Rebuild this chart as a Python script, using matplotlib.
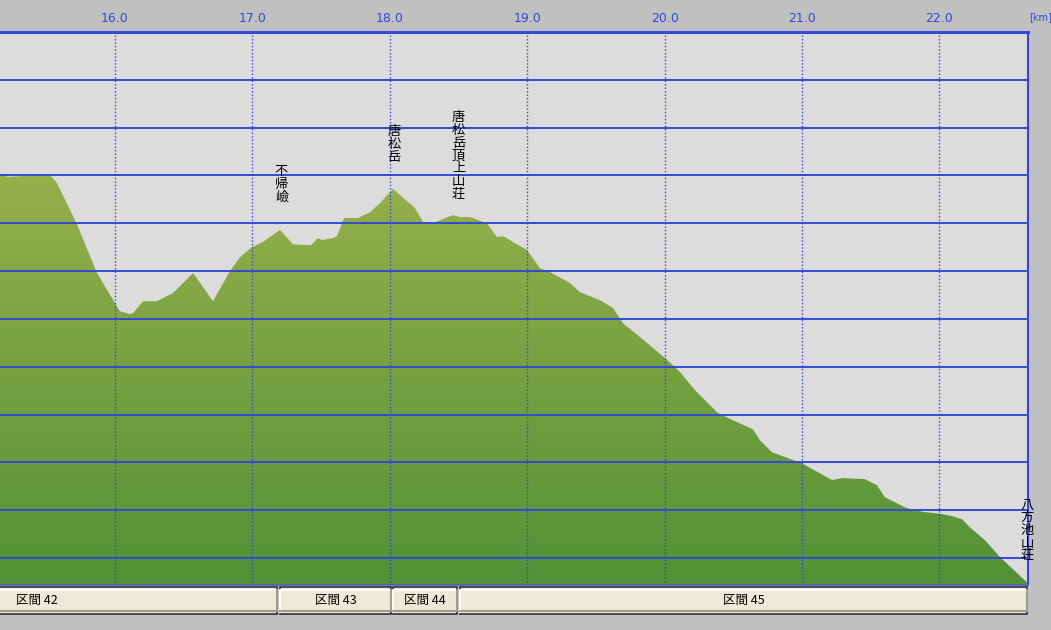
import matplotlib
matplotlib.use("Agg")
import matplotlib.pyplot as plt
import numpy as np
from matplotlib.colors import LinearSegmentedColormap
from matplotlib.patches import Rectangle

plt.rcParams['font.family'] = ['Noto Sans CJK JP', 'DejaVu Sans']

# profile: distance [km] and elevation [m]
dist_km = [15.163, 15.185, 15.221, 15.352, 15.527, 15.578, 15.723, 15.869, 16.000, 16.036,
           16.109, 16.131, 16.204, 16.306, 16.422, 16.568, 16.713, 16.837, 16.910, 16.997,
           17.077, 17.201, 17.295, 17.426, 17.477, 17.507, 17.587, 17.616, 17.667, 17.769,
           17.856, 17.929, 18.023, 18.074, 18.183, 18.242, 18.314, 18.387, 18.460, 18.511,
           18.584, 18.678, 18.707, 18.780, 18.824, 18.897, 18.999, 19.093, 19.166, 19.311,
           19.384, 19.530, 19.624, 19.697, 19.821, 20.003, 20.112, 20.221, 20.389, 20.498,
           20.643, 20.694, 20.782, 20.935, 21.000, 21.131, 21.218, 21.291, 21.458, 21.546,
           21.604, 21.750, 21.808, 21.895, 22.019, 22.099, 22.165, 22.223, 22.332, 22.441,
           22.645]
elev_m = [2703, 2701, 2697, 2699, 2701, 2684, 2598, 2496, 2433, 2416,
          2410, 2412, 2437, 2437, 2454, 2496, 2437, 2500, 2529, 2550,
          2561, 2586, 2556, 2554, 2569, 2565, 2569, 2573, 2611, 2611,
          2623, 2642, 2672, 2659, 2632, 2603, 2600, 2609, 2617, 2613,
          2613, 2603, 2600, 2571, 2573, 2561, 2544, 2506, 2498, 2475,
          2456, 2439, 2423, 2391, 2362, 2318, 2289, 2251, 2203, 2188,
          2169, 2146, 2121, 2105, 2098, 2077, 2063, 2067, 2065, 2052,
          2027, 2006, 2000, 1996, 1992, 1987, 1981, 1964, 1937, 1902,
          1847]

x_ticks = [16.0, 17.0, 18.0, 19.0, 20.0, 21.0, 22.0]
y_grid = list(range(1900, 3000, 100))

# place names (vertical labels): km, top elevation of label
places = ["不帰嶮", "唐松岳", "唐松岳頂上山荘", "八方池山荘"]
place_km = [17.21, 18.03, 18.50, 22.64]
place_top = [2722, 2805, 2834, 2024]

# sections: name, start km, end km
sections = ["区間 42", "区間 43", "区間 44", "区間 45"]
sec_start = [13.69, 17.20, 18.025, 18.51]
sec_end = [17.18, 18.01, 18.49, 22.64]

xmin, xmax = 15.163, 22.645
ymin, ymax = 1843.5, 3000

blue = '#3448d4'
W, H = 1051, 630
fig = plt.figure(figsize=(W / 100, H / 100), dpi=100, facecolor='#c0c0c0')

ax = fig.add_axes([0, 1 - 585 / H, 1028 / W, (585 - 32) / H])
ax.set_facecolor('#dcdcdc')
ax.set_xlim(xmin, xmax)
ax.set_ylim(ymin, ymax)

# gradient fill under the profile
cmap = LinearSegmentedColormap.from_list('g', ['#529236', '#98b04c'])
grad = np.linspace(0, 1, 256).reshape(-1, 1)
img = ax.imshow(grad, cmap=cmap, origin='lower', aspect='auto',
                extent=[xmin, xmax, ymin, 2710], zorder=1)
poly = ax.fill_between(dist_km, elev_m, ymin, color='none', lw=0)
img.set_clip_path(poly.get_paths()[0], transform=ax.transData)

for y in y_grid:
    ax.axhline(y, color=blue, lw=1.4, zorder=3)
for x in x_ticks:
    ax.axvline(x, color=blue, lw=1, ls=(0, (1, 1.5)), zorder=3)

ax.xaxis.tick_top()
ax.set_xticks(x_ticks)
ax.set_xticklabels([f"{v:.1f}" for v in x_ticks], color=blue, fontsize=9,
                   family='DejaVu Sans')
ax.tick_params(axis='x', length=0, pad=5)
ax.set_yticks([])
ax.spines['left'].set_visible(False)
ax.spines['top'].set_color(blue)
ax.spines['top'].set_linewidth(2.2)
ax.spines['right'].set_color(blue)
ax.spines['right'].set_linewidth(1.5)
ax.spines['bottom'].set_color('#5060c0')
ax.spines['bottom'].set_linewidth(1.2)

fig.text(1029 / W, 1 - 17 / H, "[km]", color=blue, fontsize=7, va='center',
         family='DejaVu Sans')

for name, km, top in zip(places, place_km, place_top):
    ax.text(km, top, "\n".join(name), ha='center', va='top', fontsize=9.5,
            linespacing=0.97, color='black', zorder=5, clip_on=False)

# section bar
bx = fig.add_axes([0, 1 - 614 / H, 1028 / W, 27 / H])
bx.set_xlim(xmin, xmax)
bx.set_ylim(0, 1)
bx.axis('off')
for name, a, b in zip(sections, sec_start, sec_end):
    bx.add_patch(Rectangle((a, 0), b - a, 1, facecolor='#ece9d8',
                           edgecolor='#303040', lw=1.2, clip_on=False))
    bx.plot([a, a, b], [0.08, 0.9, 0.9], color='white', lw=1.5, clip_on=False)
    bx.plot([a, b, b], [0.1, 0.1, 0.9], color='#a09c8c', lw=1.5, clip_on=False)
    bx.text((a + b) / 2, 0.5, name, ha='center', va='center', fontsize=9,
            color='black', clip_on=True)

fig.savefig("out.png", dpi=100, facecolor=fig.get_facecolor())
